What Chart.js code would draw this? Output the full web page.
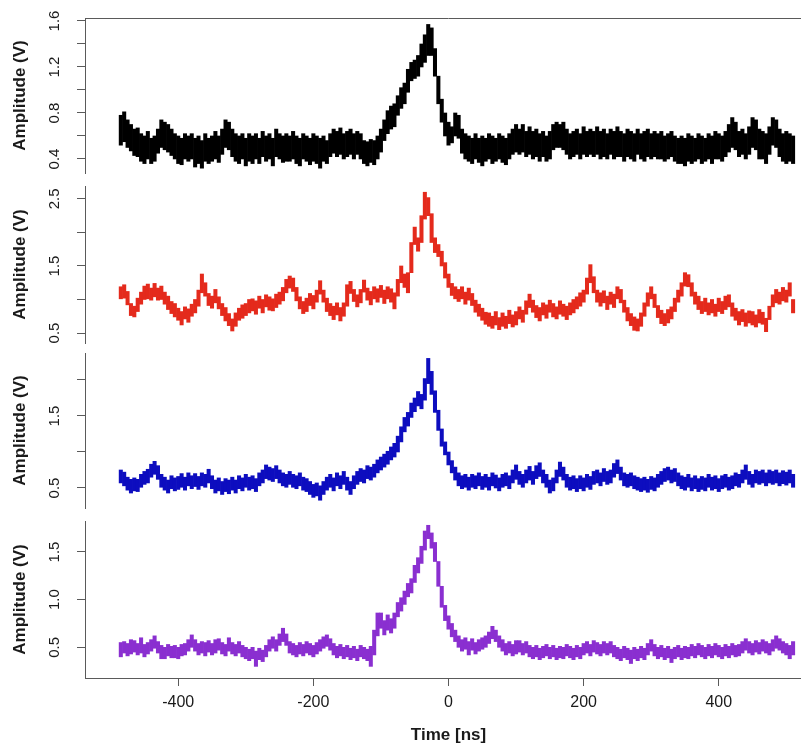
<!DOCTYPE html>
<html><head><meta charset="utf-8">
<script src="https://cdn.jsdelivr.net/npm/chart.js@4.4.1/dist/chart.umd.min.js"></script>
<style>
html,body{margin:0;padding:0;background:#fff;overflow:hidden;width:801px;height:746px;position:relative;}
canvas{position:absolute;left:0;}
</style>
</head><body>
<canvas id="c1" width="812" height="180" style="top:0px;width:812px;height:180px"></canvas>
<canvas id="c2" width="812" height="168" style="top:180px;width:812px;height:168px"></canvas>
<canvas id="c3" width="812" height="165" style="top:348px;width:812px;height:165px"></canvas>
<canvas id="c4" width="812" height="232" style="top:514px;width:812px;height:232px"></canvas>
<script>
// time bins (ns)
const times = [
-485,-480,-475,-470,-465,-460,-455,-450,-445,-440,
-435,-430,-425,-420,-415,-410,-405,-400,-395,-390,
-385,-380,-375,-370,-365,-360,-355,-350,-345,-340,
-335,-330,-325,-320,-315,-310,-305,-300,-295,-290,
-285,-280,-275,-270,-265,-260,-255,-250,-245,-240,
-235,-230,-225,-220,-215,-210,-205,-200,-195,-190,
-185,-180,-175,-170,-165,-160,-155,-150,-145,-140,
-135,-130,-125,-120,-115,-110,-105,-100,-95,-90,
-85,-80,-75,-70,-65,-60,-55,-50,-45,-40,
-35,-30,-25,-20,-15,-10,-5,0,5,10,
15,20,25,30,35,40,45,50,55,60,
65,70,75,80,85,90,95,100,105,110,
115,120,125,130,135,140,145,150,155,160,
165,170,175,180,185,190,195,200,205,210,
215,220,225,230,235,240,245,250,255,260,
265,270,275,280,285,290,295,300,305,310,
315,320,325,330,335,340,345,350,355,360,
365,370,375,380,385,390,395,400,405,410,
415,420,425,430,435,440,445,450,455,460,
465,470,475,480,485,490,495,500,505,510];

// black trace: lower / upper envelope per bin (V)
const blackLo = [
0.52,0.55,0.50,0.47,0.43,0.42,0.38,0.36,0.40,0.36,
0.38,0.45,0.50,0.48,0.46,0.43,0.40,0.36,0.35,0.40,
0.38,0.40,0.33,0.36,0.32,0.38,0.36,0.38,0.40,0.37,
0.44,0.50,0.48,0.42,0.38,0.36,0.40,0.34,0.38,0.36,
0.40,0.36,0.42,0.38,0.40,0.34,0.42,0.40,0.37,0.38,
0.38,0.40,0.36,0.34,0.40,0.38,0.35,0.38,0.36,0.32,
0.38,0.36,0.42,0.45,0.42,0.44,0.40,0.42,0.44,0.40,
0.44,0.40,0.36,0.34,0.37,0.35,0.40,0.46,0.56,0.62,
0.66,0.68,0.78,0.84,0.88,0.98,1.08,1.10,1.12,1.20,
1.24,1.30,1.30,1.12,0.88,0.72,0.60,0.52,0.54,0.60,
0.58,0.45,0.40,0.38,0.36,0.40,0.37,0.34,0.38,0.40,
0.36,0.38,0.40,0.37,0.35,0.40,0.44,0.46,0.44,0.46,
0.42,0.44,0.40,0.42,0.38,0.42,0.38,0.40,0.48,0.50,
0.50,0.48,0.44,0.40,0.42,0.44,0.40,0.44,0.42,0.44,
0.42,0.44,0.40,0.42,0.40,0.44,0.40,0.42,0.42,0.38,
0.42,0.40,0.38,0.44,0.40,0.38,0.42,0.40,0.42,0.40,
0.40,0.38,0.40,0.42,0.38,0.36,0.36,0.34,0.38,0.36,
0.38,0.40,0.36,0.38,0.40,0.36,0.40,0.40,0.38,0.42,
0.46,0.50,0.48,0.42,0.44,0.40,0.44,0.50,0.48,0.40,
0.40,0.36,0.44,0.52,0.50,0.42,0.38,0.36,0.38,0.36];
const blackHi = [
0.78,0.81,0.74,0.70,0.66,0.67,0.62,0.60,0.64,0.58,
0.60,0.66,0.74,0.72,0.70,0.66,0.62,0.60,0.58,0.62,
0.60,0.62,0.58,0.60,0.56,0.62,0.58,0.60,0.64,0.60,
0.66,0.74,0.72,0.66,0.62,0.60,0.62,0.58,0.62,0.60,
0.62,0.58,0.64,0.60,0.62,0.58,0.66,0.62,0.60,0.62,
0.60,0.64,0.60,0.58,0.62,0.60,0.58,0.62,0.60,0.58,
0.60,0.56,0.62,0.66,0.64,0.67,0.62,0.64,0.66,0.62,
0.64,0.62,0.56,0.55,0.57,0.56,0.60,0.66,0.74,0.82,
0.86,0.88,0.95,1.02,1.06,1.18,1.24,1.26,1.30,1.40,
1.48,1.57,1.54,1.36,1.12,0.92,0.80,0.72,0.68,0.80,
0.78,0.66,0.62,0.60,0.58,0.62,0.58,0.60,0.58,0.62,
0.60,0.58,0.62,0.60,0.58,0.62,0.66,0.70,0.66,0.70,
0.64,0.68,0.64,0.66,0.62,0.64,0.60,0.64,0.70,0.72,
0.70,0.72,0.66,0.62,0.64,0.66,0.62,0.68,0.64,0.66,
0.64,0.68,0.64,0.66,0.62,0.66,0.64,0.68,0.64,0.62,
0.66,0.64,0.62,0.66,0.62,0.64,0.66,0.62,0.64,0.62,
0.64,0.60,0.62,0.64,0.60,0.58,0.60,0.58,0.62,0.60,
0.58,0.62,0.60,0.58,0.62,0.60,0.64,0.62,0.60,0.64,
0.70,0.76,0.72,0.64,0.66,0.62,0.68,0.76,0.74,0.66,
0.64,0.62,0.68,0.76,0.74,0.66,0.62,0.64,0.62,0.60];

// red trace
const redLo = [
1.01,1.02,0.92,0.76,0.74,0.82,0.93,1.00,1.01,0.99,
1.04,0.99,1.00,0.93,0.85,0.79,0.74,0.69,0.62,0.71,
0.66,0.75,0.80,0.90,1.10,1.05,0.91,0.87,0.95,0.86,
0.76,0.68,0.61,0.53,0.60,0.69,0.72,0.76,0.80,0.83,
0.78,0.87,0.80,0.89,0.84,0.83,0.88,0.93,0.98,1.10,
1.17,1.12,0.98,0.86,0.79,0.82,0.91,0.86,0.96,1.08,
0.96,0.82,0.76,0.70,0.77,0.68,0.75,0.90,1.09,0.97,
0.89,0.95,1.11,0.99,0.92,1.01,0.96,1.03,0.94,1.01,
0.96,0.86,1.05,1.25,1.18,1.10,1.40,1.82,1.72,1.85,
2.20,2.25,1.85,1.70,1.64,1.50,1.32,1.18,1.06,1.01,
0.97,1.01,0.93,0.99,0.91,0.81,0.75,0.69,0.63,0.60,
0.57,0.62,0.55,0.60,0.57,0.64,0.59,0.62,0.71,0.66,
0.78,0.88,0.81,0.73,0.68,0.77,0.72,0.81,0.74,0.71,
0.78,0.75,0.70,0.77,0.80,0.86,0.90,0.96,1.08,1.25,
1.10,0.96,0.90,0.95,0.85,0.93,0.88,1.01,0.95,0.81,
0.68,0.61,0.54,0.53,0.60,0.75,0.90,1.01,0.88,0.73,
0.64,0.61,0.65,0.71,0.82,0.96,1.05,1.20,1.19,1.05,
0.93,0.85,0.79,0.82,0.77,0.80,0.75,0.82,0.79,0.85,
0.89,0.75,0.69,0.62,0.67,0.60,0.65,0.62,0.59,0.65,
0.63,0.52,0.70,0.89,0.95,0.93,0.98,0.96,1.05,0.80];
const redHi = [
1.19,1.22,1.12,0.94,0.90,1.02,1.11,1.20,1.23,1.17,
1.24,1.17,1.20,1.11,1.05,0.97,0.94,0.87,0.82,0.89,
0.86,0.93,1.00,1.14,1.38,1.25,1.09,1.05,1.15,1.04,
0.94,0.88,0.79,0.71,0.80,0.87,0.92,0.94,1.00,1.01,
0.98,1.05,1.00,1.07,1.04,1.01,1.08,1.11,1.18,1.30,
1.35,1.32,1.18,1.04,0.97,1.02,1.09,1.06,1.14,1.28,
1.14,1.02,0.94,0.90,0.95,0.88,0.95,1.22,1.27,1.15,
1.07,1.15,1.29,1.17,1.12,1.19,1.16,1.21,1.14,1.19,
1.16,1.10,1.30,1.50,1.38,1.40,1.85,2.08,1.92,2.25,
2.60,2.52,2.28,1.92,1.82,1.72,1.55,1.38,1.24,1.19,
1.15,1.19,1.11,1.17,1.09,0.99,0.93,0.87,0.81,0.80,
0.75,0.82,0.73,0.80,0.75,0.84,0.77,0.82,0.89,0.84,
0.98,1.08,0.99,0.91,0.88,0.95,0.92,0.99,0.94,0.89,
0.98,0.93,0.90,0.95,1.00,1.04,1.10,1.14,1.32,1.52,
1.34,1.14,1.10,1.13,1.05,1.11,1.08,1.19,1.15,0.99,
0.88,0.79,0.74,0.71,0.80,0.95,1.10,1.19,1.08,0.91,
0.84,0.79,0.85,0.89,1.02,1.14,1.25,1.40,1.37,1.25,
1.11,1.05,0.97,1.02,0.95,1.00,0.93,1.02,0.97,1.05,
1.07,0.95,0.87,0.82,0.85,0.80,0.83,0.82,0.77,0.85,
0.81,0.72,0.90,1.07,1.15,1.11,1.18,1.14,1.25,1.00];

// blue trace
const blueLo = [
0.57,0.53,0.47,0.43,0.46,0.45,0.51,0.55,0.57,0.65,
0.69,0.62,0.51,0.47,0.43,0.49,0.46,0.48,0.51,0.47,
0.53,0.49,0.52,0.48,0.53,0.51,0.57,0.49,0.43,0.46,
0.41,0.45,0.42,0.47,0.43,0.49,0.46,0.51,0.47,0.49,
0.45,0.53,0.57,0.63,0.61,0.59,0.63,0.57,0.53,0.51,
0.55,0.51,0.49,0.53,0.47,0.45,0.41,0.37,0.39,0.33,
0.41,0.47,0.51,0.46,0.53,0.49,0.55,0.47,0.41,0.49,
0.55,0.59,0.57,0.63,0.61,0.65,0.71,0.75,0.79,0.83,
0.89,0.93,1.00,1.14,1.28,1.36,1.48,1.56,1.64,1.60,
1.72,1.95,1.80,1.55,1.30,1.08,0.96,0.82,0.71,0.61,
0.53,0.49,0.51,0.47,0.51,0.49,0.53,0.48,0.51,0.47,
0.53,0.50,0.46,0.51,0.53,0.49,0.57,0.62,0.55,0.51,
0.57,0.61,0.55,0.63,0.66,0.57,0.51,0.43,0.46,0.57,
0.66,0.61,0.51,0.47,0.49,0.45,0.49,0.46,0.51,0.48,
0.55,0.57,0.53,0.59,0.55,0.57,0.65,0.70,0.61,0.53,
0.51,0.53,0.49,0.47,0.45,0.47,0.44,0.48,0.46,0.51,
0.55,0.59,0.61,0.57,0.59,0.53,0.49,0.47,0.51,0.46,
0.49,0.45,0.48,0.46,0.51,0.47,0.49,0.45,0.49,0.51,
0.47,0.49,0.53,0.51,0.57,0.62,0.55,0.51,0.57,0.55,
0.57,0.53,0.57,0.55,0.57,0.53,0.56,0.54,0.57,0.51];
const blueHi = [
0.75,0.72,0.65,0.62,0.64,0.62,0.69,0.73,0.76,0.83,
0.87,0.81,0.69,0.65,0.61,0.67,0.64,0.66,0.70,0.65,
0.71,0.67,0.70,0.66,0.71,0.69,0.76,0.67,0.61,0.64,
0.59,0.63,0.61,0.65,0.61,0.67,0.64,0.69,0.65,0.67,
0.63,0.71,0.75,0.82,0.79,0.77,0.81,0.75,0.71,0.69,
0.73,0.69,0.67,0.71,0.65,0.63,0.59,0.55,0.57,0.53,
0.59,0.65,0.69,0.64,0.71,0.67,0.73,0.65,0.59,0.67,
0.73,0.77,0.75,0.81,0.79,0.83,0.89,0.93,0.97,1.01,
1.07,1.12,1.22,1.35,1.48,1.55,1.68,1.75,1.84,1.80,
2.02,2.30,2.12,1.85,1.58,1.32,1.14,1.00,0.88,0.79,
0.71,0.67,0.69,0.65,0.69,0.67,0.71,0.66,0.69,0.65,
0.71,0.68,0.64,0.69,0.71,0.67,0.75,0.82,0.73,0.69,
0.75,0.80,0.73,0.81,0.85,0.75,0.69,0.61,0.64,0.75,
0.86,0.79,0.69,0.65,0.67,0.63,0.67,0.64,0.69,0.66,
0.73,0.75,0.71,0.77,0.73,0.75,0.84,0.89,0.79,0.71,
0.69,0.71,0.67,0.65,0.63,0.65,0.62,0.66,0.64,0.69,
0.73,0.77,0.79,0.75,0.77,0.71,0.67,0.65,0.69,0.64,
0.67,0.63,0.66,0.64,0.69,0.65,0.67,0.63,0.67,0.69,
0.65,0.67,0.71,0.69,0.75,0.82,0.73,0.69,0.75,0.73,
0.75,0.71,0.75,0.73,0.75,0.71,0.74,0.72,0.75,0.69];

// purple trace
const purpleLo = [
0.40,0.44,0.41,0.43,0.45,0.42,0.44,0.40,0.43,0.46,
0.49,0.44,0.38,0.38,0.41,0.39,0.39,0.38,0.41,0.42,
0.46,0.50,0.46,0.42,0.44,0.41,0.45,0.42,0.44,0.47,
0.43,0.41,0.46,0.43,0.41,0.44,0.40,0.38,0.36,0.38,
0.30,0.37,0.35,0.40,0.46,0.49,0.46,0.52,0.56,0.52,
0.44,0.42,0.40,0.43,0.41,0.44,0.42,0.40,0.43,0.46,
0.49,0.51,0.47,0.42,0.39,0.41,0.38,0.40,0.37,0.39,
0.36,0.40,0.38,0.36,0.30,0.42,0.62,0.70,0.63,0.68,
0.65,0.70,0.82,0.88,0.95,1.03,1.07,1.18,1.28,1.38,
1.52,1.64,1.54,1.40,1.14,0.92,0.78,0.69,0.61,0.56,
0.50,0.46,0.48,0.42,0.47,0.43,0.46,0.48,0.50,0.54,
0.59,0.56,0.50,0.46,0.42,0.44,0.41,0.43,0.45,0.42,
0.44,0.40,0.38,0.40,0.37,0.39,0.41,0.38,0.40,0.37,
0.39,0.38,0.41,0.39,0.37,0.40,0.38,0.42,0.44,0.41,
0.45,0.43,0.41,0.44,0.42,0.44,0.40,0.38,0.36,0.39,
0.37,0.33,0.38,0.36,0.39,0.37,0.42,0.46,0.41,0.38,
0.40,0.37,0.39,0.34,0.38,0.40,0.37,0.39,0.38,0.41,
0.39,0.42,0.40,0.38,0.41,0.39,0.42,0.40,0.38,0.41,
0.39,0.42,0.40,0.41,0.44,0.47,0.44,0.42,0.45,0.43,
0.46,0.44,0.42,0.46,0.49,0.47,0.44,0.42,0.38,0.42];
const purpleHi = [
0.55,0.56,0.54,0.58,0.57,0.54,0.60,0.53,0.55,0.58,
0.62,0.56,0.52,0.50,0.53,0.51,0.52,0.50,0.53,0.54,
0.58,0.63,0.58,0.54,0.56,0.55,0.57,0.54,0.58,0.59,
0.55,0.53,0.60,0.55,0.53,0.56,0.52,0.50,0.48,0.50,
0.46,0.49,0.47,0.52,0.58,0.61,0.58,0.64,0.70,0.64,
0.56,0.54,0.52,0.55,0.53,0.56,0.54,0.52,0.55,0.58,
0.61,0.63,0.59,0.54,0.51,0.53,0.50,0.52,0.49,0.51,
0.48,0.52,0.50,0.48,0.51,0.68,0.86,0.86,0.78,0.84,
0.80,0.86,0.97,1.02,1.09,1.17,1.22,1.36,1.44,1.56,
1.72,1.78,1.70,1.60,1.40,1.14,0.94,0.83,0.75,0.68,
0.62,0.58,0.60,0.56,0.59,0.55,0.58,0.60,0.62,0.66,
0.72,0.68,0.62,0.58,0.54,0.56,0.53,0.57,0.57,0.54,
0.56,0.52,0.50,0.52,0.49,0.51,0.53,0.50,0.52,0.49,
0.51,0.50,0.53,0.51,0.49,0.52,0.50,0.54,0.56,0.53,
0.57,0.55,0.53,0.56,0.54,0.56,0.52,0.50,0.48,0.51,
0.49,0.47,0.50,0.48,0.51,0.49,0.54,0.58,0.53,0.50,
0.52,0.49,0.51,0.48,0.50,0.52,0.49,0.51,0.50,0.53,
0.51,0.54,0.52,0.50,0.53,0.51,0.54,0.52,0.50,0.53,
0.51,0.54,0.52,0.53,0.56,0.59,0.56,0.54,0.57,0.55,
0.58,0.56,0.54,0.58,0.62,0.59,0.56,0.54,0.52,0.56];

// axis ticks and labels
const xTicks = [-400, -200, 0, 200, 400];
const xTickText = ['-400', '-200', '0', '200', '400'];
const yTicks1 = [0.4, 0.6, 0.8, 1.0, 1.2, 1.4, 1.6];
const yLab1 = [0.4, 0.8, 1.2, 1.6];
const yLabText1 = ['0.4', '0.8', '1.2', '1.6'];
const yTicks2 = [0.5, 1.0, 1.5, 2.0, 2.5];
const yLab2 = [0.5, 1.5, 2.5];
const yLabText2 = ['0.5', '1.5', '2.5'];
const yTicks3 = [0.5, 1.0, 1.5, 2.0];
const yLab3 = [0.5, 1.5];
const yLabText3 = ['0.5', '1.5'];
const yTicks4 = [0.5, 1.0, 1.5];
const yLab4 = [0.5, 1.0, 1.5];
const yLabText4 = ['0.5', '1.0', '1.5'];

const FONT = '"Liberation Sans", Arial, Helvetica, sans-serif';
const AXIS = '#5a5a5a';
const TXT = '#1a1a1a';

const decoPlugin = {
  id: 'deco',
  afterDraw(chart) {
    const o = chart.options.plugins.deco;
    const ctx = chart.ctx;
    const ys = chart.scales.y;
    const area = chart.chartArea;
    ctx.save();
    if (o.topLine) {
      ctx.strokeStyle = AXIS; ctx.lineWidth = 1;
      ctx.beginPath();
      ctx.moveTo(area.left, Math.round(area.top) + 0.5);
      ctx.lineTo(area.right, Math.round(area.top) + 0.5);
      ctx.stroke();
    }
    ctx.fillStyle = TXT;
    ctx.font = '15px ' + FONT;
    ctx.textAlign = 'center';
    ctx.textBaseline = 'middle';
    o.vals.forEach((v, i) => {
      const py = ys.getPixelForValue(v);
      ctx.save();
      ctx.translate(54.5, py);
      ctx.rotate(-Math.PI / 2);
      ctx.fillText(o.texts[i], 0, 0);
      ctx.restore();
    });
    ctx.restore();
  }
};

const panels = [
  {id: 'c1', lo: blackLo, hi: blackHi, color: '#000000', yMin: 0.278, yMax: 1.626, ticks: yTicks1, vals: yLab1, texts: yLabText1, pt: 18, pb: 7, top: true, xAxis: false},
  {id: 'c2', lo: redLo, hi: redHi, color: '#e42a1c', yMin: 0.351, yMax: 2.693, ticks: yTicks2, vals: yLab2, texts: yLabText2, pt: 6, pb: 5, top: false, xAxis: false},
  {id: 'c3', lo: blueLo, hi: blueHi, color: '#0d0dbf', yMin: 0.222, yMax: 2.375, ticks: yTicks3, vals: yLab3, texts: yLabText3, pt: 5, pb: 5, top: false, xAxis: false},
  {id: 'c4', lo: purpleLo, hi: purpleHi, color: '#8a2fd0', yMin: 0.178, yMax: 1.825, ticks: yTicks4, vals: yLab4, texts: yLabText4, pt: 7, pb: 0, top: false, xAxis: true}
];

panels.forEach(p => {
  new Chart(document.getElementById(p.id), {
    type: 'bar',
    data: {
      datasets: [{
        data: times.map((t, i) => ({x: t, y: [p.lo[i], p.hi[i]]})),
        backgroundColor: p.color,
        borderWidth: 0,
        barPercentage: 1,
        categoryPercentage: 1
      }]
    },
    options: {
      responsive: false,
      animation: false,
      events: [],
      layout: {padding: {top: p.pt, bottom: p.pb, left: 0, right: 0}},
      plugins: {
        legend: {display: false},
        tooltip: {enabled: false},
        deco: {topLine: p.top, vals: p.vals, texts: p.texts}
      },
      scales: {
        x: {
          type: 'linear', min: -538, max: 538, offset: false, display: p.xAxis,
          afterBuildTicks: s => { s.ticks = xTicks.map(v => ({value: v})); },
          afterFit: s => { if (p.xAxis) { s.height = 68; } },
          grid: {display: true, offset: false, drawOnChartArea: false, drawTicks: true, tickLength: 8, color: AXIS},
          border: {display: true, color: AXIS, width: 1},
          ticks: {color: TXT, font: {family: FONT, size: 16}, padding: 7, maxRotation: 0, autoSkip: false,
                  callback: v => xTickText[xTicks.indexOf(v)]},
          title: {display: true, text: 'Time [ns]', color: TXT, font: {family: FONT, size: 17, weight: 'bold'}, padding: {top: 0, bottom: 0}}
        },
        y: {
          type: 'linear', min: p.yMin, max: p.yMax, position: 'left',
          afterBuildTicks: s => { s.ticks = p.ticks.map(v => ({value: v})); },
          afterFit: s => { s.width = 85; },
          grid: {display: true, offset: false, drawOnChartArea: false, drawTicks: true, tickLength: 8, color: AXIS},
          border: {display: true, color: AXIS, width: 1},
          ticks: {display: false},
          title: {display: true, text: 'Amplitude (V)', color: TXT, font: {family: FONT, size: 17, weight: 'bold'}, padding: {top: 10, bottom: 0}}
        }
      }
    },
    plugins: [decoPlugin]
  });
});
</script>
</body></html>
